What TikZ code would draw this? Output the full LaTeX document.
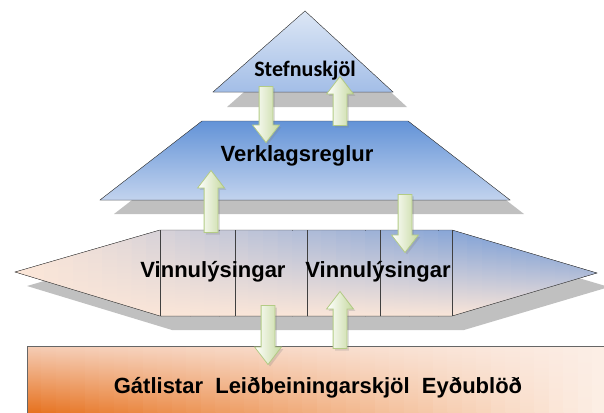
\documentclass[tikz,border=0pt]{standalone}
\usepackage{fontspec}
\setmainfont{Liberation Sans}
\newfontfamily\stefnufont{Carlito}
\usetikzlibrary{shapes.arrows,shadows}

\definecolor{peach}{HTML}{FBE6D8}
\definecolor{hexblue}{HTML}{5F8FD7}
\definecolor{trapTop}{HTML}{6393D7}
\definecolor{trapBot}{HTML}{C2D3EE}
\definecolor{triTop}{HTML}{DCE6F5}
\definecolor{triBot}{HTML}{A3BEE7}
\definecolor{rectTop}{HTML}{F5CDB6}
\definecolor{rectBot}{HTML}{E6701C}
\definecolor{shadowgrey}{HTML}{C0C0C0}
\definecolor{arrowgreen}{HTML}{C6D9A0}
\definecolor{arrowline}{HTML}{B3CB85}
\definecolor{edgegrey}{HTML}{404040}

% outlines of the layers (px, y downwards)
\newcommand{\stefnupath}{(305,11) -- (393,92) -- (213,92) -- cycle}
\newcommand{\verkpath}{(202,121) -- (408,121) -- (510,200) -- (100,200) -- cycle}
\newcommand{\vinnupath}{(15,272) -- (160,230) -- (452,230) -- (597,273) -- (452,316) -- (160,316) -- cycle}

\begin{document}
\begin{tikzpicture}[x=1pt, y=-1pt,
  layertext/.style={font=\fontsize{22}{26}\selectfont\bfseries, text=black},
  blockarrow/.style={single arrow, draw=arrowline, line width=0.8pt,
    left color=white, right color=arrowgreen, inner sep=6.5pt,
    single arrow head extend=6.5pt, single arrow tip angle=75,
    drop shadow={shadow xshift=2pt, shadow yshift=-2pt, opacity=0.25}},
  uparrow/.style={blockarrow, shape border rotate=90},
  downarrow/.style={blockarrow, shape border rotate=270}]
\useasboundingbox (0,0) rectangle (604,412);

% shadows
\fill[shadowgrey, shift={(14,15)}] \stefnupath;
\fill[shadowgrey, shift={(14,14)}] \verkpath;
\fill[shadowgrey, shift={(12,14)}] \vinnupath;

% bottom bar, orange fading out to the right
\foreach \i in {0,...,39} {
  \pgfmathtruncatemacro{\topmix}{100-65*\i/39}
  \pgfmathtruncatemacro{\botmix}{100-88*\i/39}
  \fill[top color=rectTop!\topmix!white, bottom color=rectBot!\botmix!white]
    ({27+\i*14.5},346) rectangle ({27+(\i+1)*14.5+0.6},414);
}
\draw[edgegrey!80] (606,346) -- (27,346) -- (27,414);
\node (gat) [layertext] at (318,388) {Gátlistar\ \ Leiðbeiningarskjöl\ \ Eyðublöð};

% Vinnulysingar, peach on the left, blue in the upper right
\begin{scope}
\clip \vinnupath;
\foreach \i in {0,...,39} {
  \pgfmathtruncatemacro{\bluemix}{100*\i/39}
  \fill[top color=hexblue!\bluemix!peach, bottom color=peach]
    ({15+\i*14.6},229) rectangle ({15+(\i+1)*14.6+0.6},317);
}
\end{scope}
\draw[edgegrey] \vinnupath;
\foreach \x in {160,235,307,380,452}
  \draw[edgegrey] (\x,230) -- (\x,316);
\node (vinnuA) [layertext] at (213,272) {Vinnulýsingar};
\node (vinnuB) [layertext] at (378,272) {Vinnulýsingar};

% Verklagsreglur
\fill[top color=trapTop, bottom color=trapBot] \verkpath;
\draw[edgegrey] \verkpath;
\node (verk) [layertext] at (297,156) {Verklagsreglur};

% Stefnuskjol
\fill[top color=triTop, bottom color=triBot] \stefnupath;
\draw[edgegrey] \stefnupath;
\node (stefnu) [font=\stefnufont\fontsize{22}{26}\selectfont\bfseries] at (305,71) {Stefnuskjöl};

% arrows between the layers
\node (a1) [downarrow, minimum height=56pt] at (266,110) {};
\node (a2) [uparrow, minimum height=49pt] at (340,105.5) {};
\node (a3) [uparrow, minimum height=62pt] at (211,206) {};
\node (a4) [downarrow, minimum height=58pt] at (405,219) {};
\node (a5) [downarrow, minimum height=59pt] at (268,330.5) {};
\node (a6) [uparrow, minimum height=57pt] at (340,324.5) {};
\end{tikzpicture}
\end{document}
